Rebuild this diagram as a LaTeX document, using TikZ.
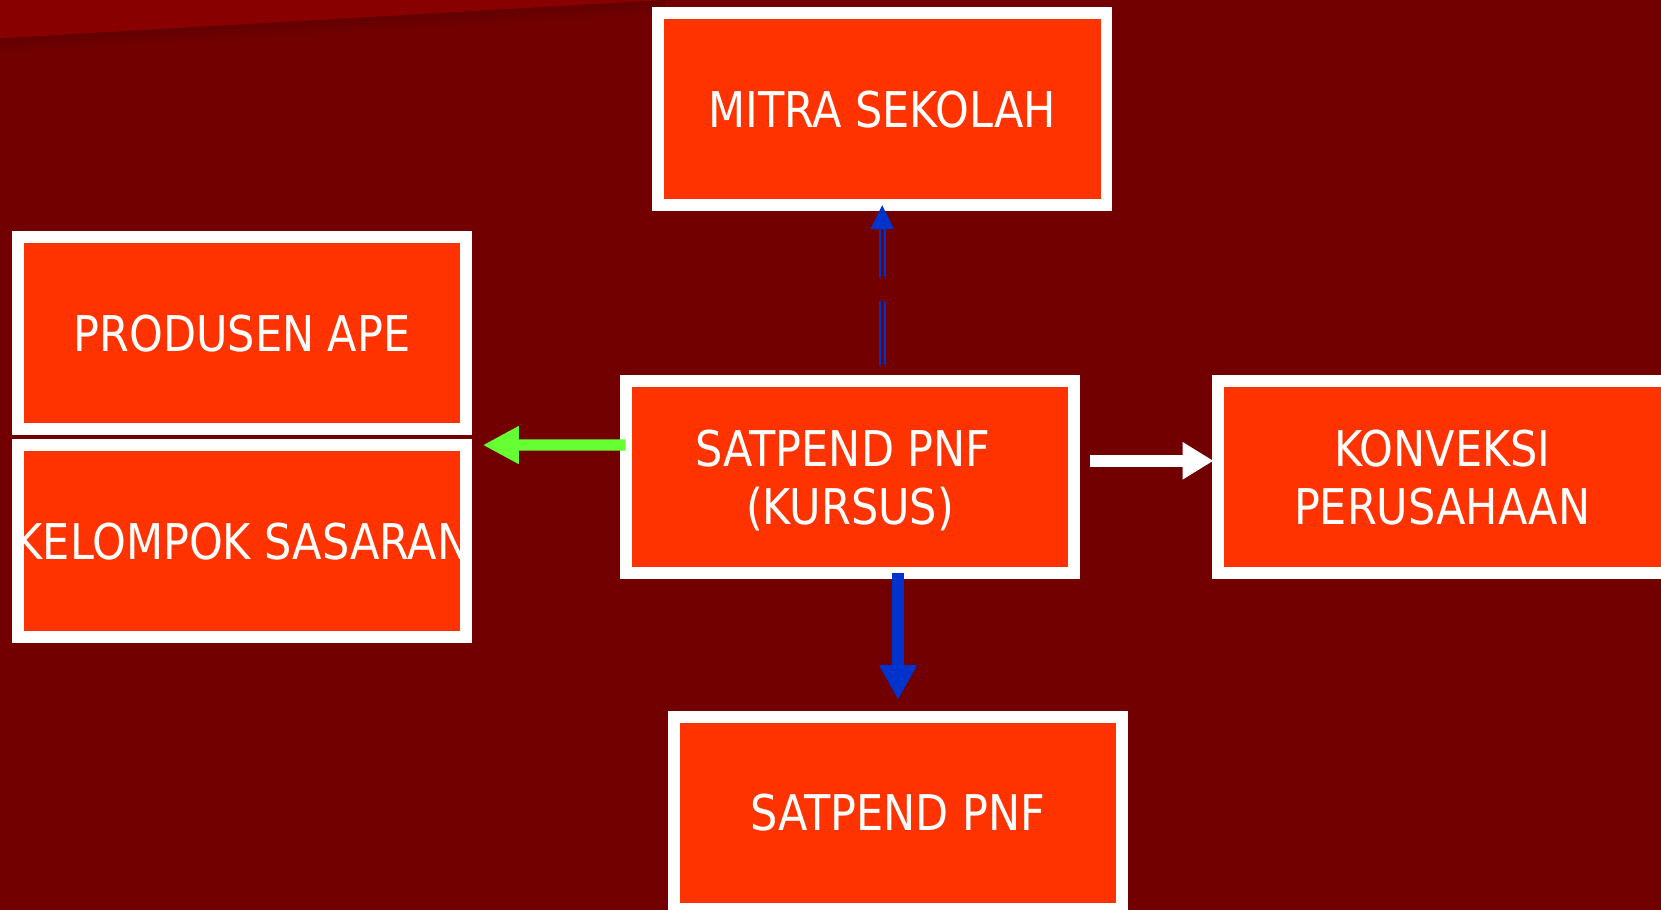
\documentclass[tikz,border=0pt]{standalone}
\usepackage{fontspec}
\setmainfont{DejaVu Sans Condensed}[FakeStretch=0.97]
\usetikzlibrary{arrows.meta,calc}
\definecolor{bgred}{HTML}{720000}
\definecolor{topred}{HTML}{880000}
\definecolor{boxfill}{HTML}{FF3300}
\definecolor{linkgreen}{HTML}{66FF33}
\definecolor{linkblue}{HTML}{0033CC}
\begin{document}
\begin{tikzpicture}[x=0.01cm,y=-0.01cm,
  box/.style={rectangle, fill=boxfill, text=white, inner sep=0pt, outer sep=0pt,
    minimum width=4.483cm, minimum height=1.918cm, align=center, text depth=0pt,
    font={\fontsize{14pt}{16.6pt}\selectfont}},
  frame/.style={draw=white, line width=0.117cm},
  greenlink/.style={draw=linkgreen, line width=0.114cm,
    -{Triangle[length=0.36cm,width=0.354cm]}},
  whitelink/.style={draw=white, line width=0.117cm,
    -{Triangle[length=0.31cm,width=0.354cm]}},
  bluelink/.style={draw=linkblue, line width=0.12cm,
    -{Triangle[length=0.35cm,width=0.358cm]}},
  dbllink/.style={draw=linkblue, line width=0.02cm, double=bgred,
    double distance=0.034cm, dash pattern=on 0.64cm off 0.24cm}]

% canvas
\useasboundingbox (0,0) rectangle (1661,910);
\clip (0,0) rectangle (1661,910);
\fill[bgred] (0,0) rectangle (1661,910);

% lighter corner band with a soft shadow below it
\fill[topred] (0,0) -- (665,0) -- (0,38.3) -- cycle;
\foreach \k/\op in {0/0.12,1/0.09,2/0.06,3/0.03}
  \fill[black,opacity=\op] (0,{38.3+3.5*\k}) -- (665,{3.5*\k})
    -- (665,{3.5+3.5*\k}) -- (0,{41.8+3.5*\k}) -- cycle;

% boxes
\node[box] (mitra)    at (882.2,109.3) {MITRA SEKOLAH};
\node[box] (produsen) at (242,332.8)   {PRODUSEN APE};
\node[box] (kelompok) at (242,541)     {\makebox[0pt][c]{KELOMPOK SASARAN}};
\node[box] (kursus)   at (850,477)     {\mbox{SATPEND PNF\ }\\(KURSUS)};
\node[box] (konveksi) at (1442.3,477)  {KONVEKSI\\PERUSAHAAN};
\node[box] (satpend)  at (898,812.7)   {SATPEND PNF};

% white frames drawn over the labels
\foreach \n in {mitra,produsen,kelompok,kursus,konveksi,satpend}
  \draw[frame] (\n.south west) rectangle (\n.north east);

% connectors
\draw[greenlink] ($(kursus.west)+(0,-32)$) -- ($(kelompok.north east)+(16.5,0)$);
\draw[whitelink] ($(kursus.east)+(15.75,-16.2)$) -- ($(konveksi.west)+(-4.5,-16.2)$);
\draw[bluelink] (kursus.south -| satpend.north) -- ($(satpend.north)+(0,-16.85)$);
\draw[dbllink] ($(mitra.south |- kursus.north)+(0,-16)$) -- ($(mitra.south)+(0,24)$);
\fill[linkblue] (mitra.south) -- ++(-11.85,24) -- ++(23.7,0) -- cycle;
\end{tikzpicture}
\end{document}
